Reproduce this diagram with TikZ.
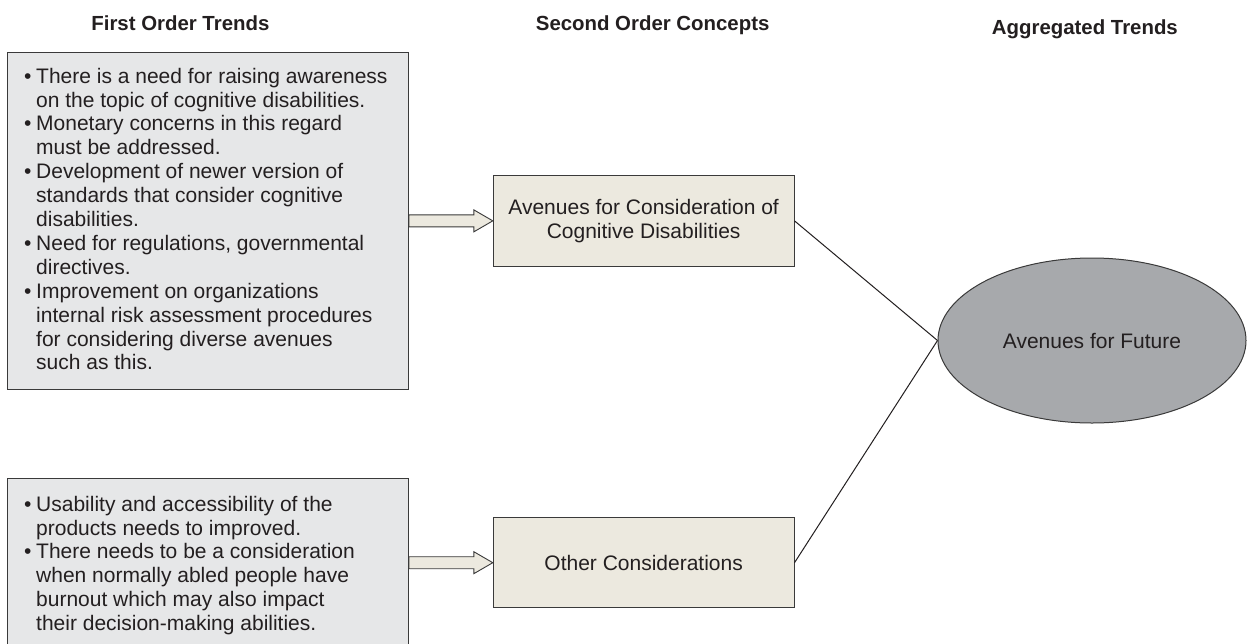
\documentclass[tikz,border=0pt]{standalone}
\usepackage{fontspec}
\setmainfont{Liberation Sans}
\usetikzlibrary{shapes.geometric,calc}
\definecolor{textc}{HTML}{231F20}
\definecolor{bordc}{HTML}{3A3A3A}
\definecolor{grayfill}{HTML}{E6E7E8}
\definecolor{beige}{HTML}{ECE9DF}
\definecolor{ellfill}{HTML}{A7A9AC}
\newcommand\bul{\makebox[12pt][l]{•}}
\newcommand\ind{\hspace*{12pt}}
\tikzset{
  heading/.style={font=\fontsize{20.4}{24}\selectfont\bfseries, text=textc, inner sep=0pt, anchor=base west},
  bodytext/.style={font=\fontsize{21}{23.9}\selectfont, text=textc, inner sep=0pt, align=left, anchor=north west},
  graybox/.style={draw=bordc, line width=1pt, fill=grayfill, inner sep=0pt, anchor=north west},
  conceptbox/.style={draw=bordc, line width=1pt, fill=beige, inner sep=0pt, align=center,
    minimum width=300.7pt, minimum height=90.3pt, font=\fontsize{21}{24.3}\selectfont, text=textc},
  trendell/.style={ellipse, draw=bordc, line width=1pt, fill=ellfill, inner sep=0pt,
    minimum width=308pt, minimum height=165pt, font=\fontsize{21}{24}\selectfont, text=textc},
  fatarrow/.style={draw=bordc, line width=0.9pt, fill=beige, line join=miter},
  link/.style={draw=textc, line width=1pt}
}
\begin{document}
\begin{tikzpicture}[x=1pt,y=-1pt]
\clip (0,0) rectangle (1247,643);
\fill[white] (0,0) rectangle (1247,643);

% headings
\node[heading] (h1) at (91.2,30) {First Order Trends};
\node[heading] (h2) at (535.7,30) {Second Order Concepts};
\node[heading] (h3) at (991.7,34) {Aggregated Trends};

% first order boxes
\node[graybox, minimum width=401pt, minimum height=336.5pt] (f1) at (7,52) {};
\node[graybox, minimum width=401pt, minimum height=200pt] (f2) at (7,478) {};

\node[bodytext] (f1t) at (24,67.7) {\bul There is a need for raising awareness\\\ind on the topic of cognitive disabilities.\\\bul Monetary concerns in this regard\\\ind must be addressed.\\\bul Development of newer version of\\\ind standards that consider cognitive\\\ind disabilities.\\\bul Need for regulations, governmental\\\ind directives.\\\bul Improvement on organizations\\\ind internal risk assessment procedures\\\ind for considering diverse avenues\\\ind such as this.};

\node[bodytext] (f2t) at (24,495.7) {\bul Usability and accessibility of the\\\ind products needs to improved.\\\bul There needs to be a consideration\\\ind when normally abled people have\\\ind burnout which may also impact\\\ind their decision-making abilities.};

% second order concepts
\node[conceptbox] (a1) at (643.65,220.85) {Avenues for Consideration of\\Cognitive Disabilities};
\node[conceptbox] (a2) at (643.65,562.7) {Other Considerations};

% aggregated trend
\node[trendell] (fut) at (1092,340.5) {Avenues for Future};

% fat arrows
\foreach \src/\dst in {f1/a1, f2/a2}{
  \draw[fatarrow] ($(\src.east|-\dst.west)+(0,-6)$) -- ($(\dst.west)+(-19,-6)$) -- ($(\dst.west)+(-19,-11)$) -- (\dst.west) -- ($(\dst.west)+(-19,11)$) -- ($(\dst.west)+(-19,6)$) -- ($(\src.east|-\dst.west)+(0,6)$) -- cycle;
}

% links
\draw[link] (a1.east) -- (fut.west);
\draw[link] (a2.east) -- (fut.west);
\end{tikzpicture}
\end{document}
